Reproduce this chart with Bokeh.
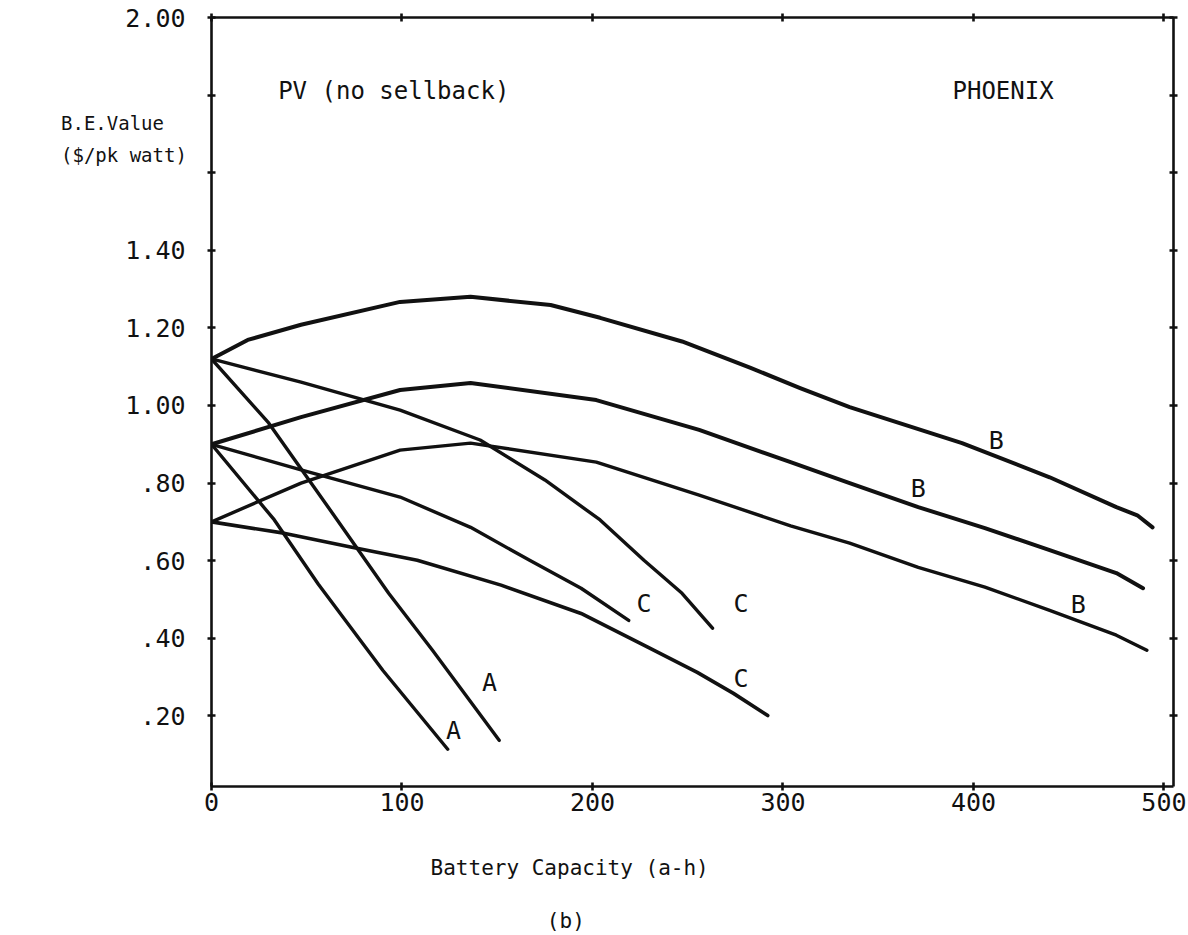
from bokeh.plotting import figure
from bokeh.models import Label, LinearAxis, FixedTicker, Range1d
from bokeh.embed import file_html
from bokeh.resources import INLINE

FONT = "DejaVu Sans Mono"
INK = "#111111"

# ---------------- axis ticks ----------------
x_ticks = [0, 100, 200, 300, 400, 500]
x_tick_labels = ["0", "100", "200", "300", "400", "500"]
y_ticks = [0.2, 0.4, 0.6, 0.8, 1.0, 1.2, 1.4, 1.6, 1.8, 2.0]
y_tick_labels = [".20", ".40", ".60", ".80", "1.00", "1.20", "1.40", "", "", "2.00"]

# ---------------- series (battery capacity a-h, B.E. value $/pk watt) ----------------
a_upper_x = [0, 30, 66, 93, 116, 151]
a_upper_y = [1.12, 0.955, 0.705, 0.516, 0.369, 0.137]

a_lower_x = [0, 33, 56, 90, 124]
a_lower_y = [0.90, 0.705, 0.54, 0.317, 0.114]

b_top_x = [0, 19, 47, 99, 136, 178, 204, 247, 283, 309, 335, 394, 440, 475, 486, 494]
b_top_y = [1.12, 1.169, 1.208, 1.267, 1.28, 1.259, 1.226, 1.165, 1.097, 1.045, 0.996,
           0.903, 0.815, 0.738, 0.717, 0.686]

b_mid_x = [0, 47, 99, 136, 202, 256, 304, 335, 371, 406, 440, 475, 489]
b_mid_y = [0.90, 0.970, 1.04, 1.058, 1.014, 0.937, 0.854, 0.80, 0.738, 0.684, 0.627,
           0.568, 0.529]

b_low_x = [0, 47, 99, 136, 202, 256, 304, 335, 371, 406, 440, 475, 491]
b_low_y = [0.70, 0.80, 0.885, 0.903, 0.854, 0.769, 0.69, 0.645, 0.583, 0.532, 0.472,
           0.408, 0.369]

c_top_x = [0, 47, 99, 141, 175, 204, 227, 247, 263]
c_top_y = [1.12, 1.06, 0.988, 0.911, 0.808, 0.705, 0.601, 0.516, 0.426]

c_mid_x = [0, 47, 99, 136, 167, 194, 219]
c_mid_y = [0.90, 0.834, 0.764, 0.686, 0.601, 0.529, 0.446]

c_low_x = [0, 38, 73, 108, 152, 194, 229, 255, 274, 292]
c_low_y = [0.70, 0.671, 0.635, 0.601, 0.537, 0.464, 0.377, 0.312, 0.258, 0.201]

curve_letters = ["A", "A", "B", "B", "B", "C", "C", "C"]

# ---------------- figure ----------------
p = figure(width=1186, height=933,
           x_range=Range1d(0, 505), y_range=Range1d(0.018, 2.0),
           output_backend="svg", toolbar_location=None,
           min_border_left=211, min_border_right=13,
           min_border_top=17, min_border_bottom=147,
           background_fill_color="white", border_fill_color="white")
p.outline_line_color = None
p.xgrid.visible = False
p.ygrid.visible = False


def style_axis(ax, ticks, overrides, show_labels):
    ax.ticker = FixedTicker(ticks=ticks)
    ax.axis_line_color = INK
    ax.axis_line_width = 2.6
    ax.major_tick_line_color = INK
    ax.major_tick_line_width = 2.6
    ax.major_tick_in = 4
    ax.major_tick_out = 4
    ax.minor_tick_line_color = None
    ax.major_label_overrides = overrides
    ax.major_label_text_font = FONT
    ax.major_label_text_color = INK
    if show_labels:
        ax.major_label_text_font_size = "25px"
    else:
        ax.major_label_text_font_size = "0px"
        ax.major_label_standoff = 0


x_over = dict(zip(x_ticks, x_tick_labels))
y_over = dict(zip(y_ticks, y_tick_labels))

style_axis(p.xaxis[0], x_ticks, x_over, True)
p.xaxis[0].major_label_standoff = 2
style_axis(p.yaxis[0], y_ticks, y_over, True)
p.yaxis[0].major_label_standoff = 22

top_axis = LinearAxis()
style_axis(top_axis, x_ticks, {t: "" for t in x_ticks}, False)
p.add_layout(top_axis, "above")

right_axis = LinearAxis()
style_axis(right_axis, y_ticks, {t: "" for t in y_ticks}, False)
p.add_layout(right_axis, "right")

# ---------------- curves ----------------
series = [
    (a_upper_x, a_upper_y, 3.4),
    (a_lower_x, a_lower_y, 3.4),
    (b_top_x, b_top_y, 4.0),
    (b_mid_x, b_mid_y, 4.0),
    (b_low_x, b_low_y, 3.4),
    (c_top_x, c_top_y, 3.4),
    (c_mid_x, c_mid_y, 3.4),
    (c_low_x, c_low_y, 3.6),
]
for xs, ys, w in series:
    p.line(xs, ys, line_color=INK, line_width=w, line_join="round", line_cap="round")

# curve letter positions (annotation placement)
letter_pos = [(127, 0.163), (146, 0.286),
              (412, 0.911), (371, 0.785), (455, 0.488),
              (227, 0.49), (278, 0.49), (278, 0.297)]
for letter, (lx, ly) in zip(curve_letters, letter_pos):
    p.add_layout(Label(x=lx, y=ly, text=letter, text_font=FONT, text_font_size="25px",
                       text_color=INK, text_align="center", text_baseline="middle"))

# in-plot texts
p.add_layout(Label(x=35, y=1.81, text="PV (no sellback)", text_font=FONT,
                   text_font_size="24px", text_color=INK,
                   text_align="left", text_baseline="middle"))
p.add_layout(Label(x=389, y=1.81, text="PHOENIX", text_font=FONT,
                   text_font_size="24px", text_color=INK,
                   text_align="left", text_baseline="middle"))


# texts outside the frame: placed in a side panel so they are not clipped
def outer_label(x, y, text, size, align):
    lab = Label(x=x, y=y, text=text, text_font=FONT, text_font_size=size,
                text_color=INK, text_align=align, text_baseline="middle")
    p.add_layout(lab, "below")


outer_label(-79, 1.727, "B.E.Value", "19px", "left")
outer_label(-79, 1.645, "($/pk watt)", "19px", "left")
outer_label(188, -0.193, "Battery Capacity (a-h)", "21px", "center")
outer_label(186, -0.328, "(b)", "21px", "center")

open("out.html", "w").write(file_html(p, INLINE))
